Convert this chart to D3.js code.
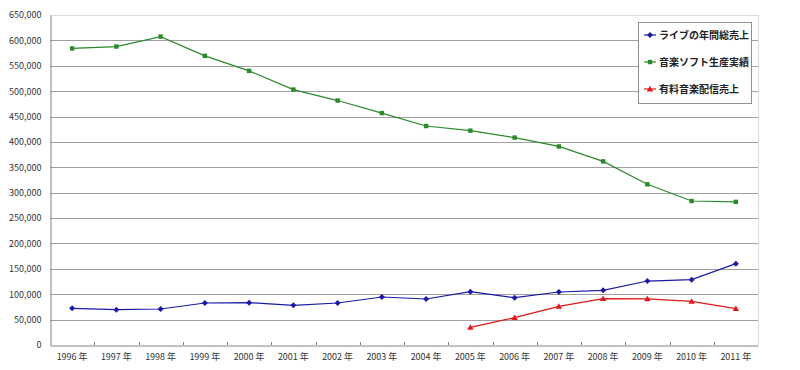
<!DOCTYPE html>
<html><head><meta charset="utf-8">
<script src="https://cdn.jsdelivr.net/npm/d3@7"></script>
<style>
body{margin:0;background:#fff;}
svg{display:block;}
text{font-family:"Noto Sans CJK JP","DejaVu Sans",sans-serif;}
</style></head>
<body><svg id="c" width="800" height="370"></svg>
<script>
const years = ["1996年","1997年","1998年","1999年","2000年","2001年","2002年","2003年","2004年","2005年","2006年","2007年","2008年","2009年","2010年","2011年"];
const yearLabels = ["1996 年","1997 年","1998 年","1999 年","2000 年","2001 年","2002 年","2003 年","2004 年","2005 年","2006 年","2007 年","2008 年","2009 年","2010 年","2011 年"];
const seriesNames = ["ライブの年間総売上","音楽ソフト生産実績","有料音楽配信売上"];
const liveSales = [72200,69600,70900,82700,83400,78100,82700,94500,90600,105000,93200,104400,107700,126000,128700,160200];
const softProduction = [584100,587900,607500,569500,539900,503100,481500,456800,431300,422200,408500,391100,361700,316500,283600,281900];
const digitalSales = [null,null,null,null,null,null,null,null,null,34800,53800,76100,91300,91000,86000,71600];
const yTicks = [0,50000,100000,150000,200000,250000,300000,350000,400000,450000,500000,550000,600000,650000];

const colors = ["#1a1aa8","#2a8a2a","#e01818"];
const svg = d3.select("#c");
const L=50, R=758, T=15, B=345;
const x = d3.scaleBand().domain(years).range([L,R]);
const y = d3.scaleLinear().domain([0,650000]).range([B,T]);

// gridlines
svg.append("g").selectAll("line").data(yTicks.filter(d=>d>0)).join("line")
  .attr("x1",L).attr("x2",R).attr("y1",d=>Math.round(y(d))+0.5).attr("y2",d=>Math.round(y(d))+0.5)
  .attr("stroke",d=>d===650000?"#dcdcdc":"#a0a0a0").attr("stroke-width",1);
// right border
svg.append("line").attr("x1",R+0.5).attr("x2",R+0.5).attr("y1",T).attr("y2",B).attr("stroke","#dcdcdc");

// y axis
const yAxis = d3.axisLeft(y).tickValues(yTicks).tickSize(0).tickPadding(9).tickFormat(d3.format(","));
const gy = svg.append("g").attr("transform",`translate(${L+0.5},0)`).call(yAxis);
gy.select(".domain").attr("stroke","#808080");
gy.selectAll("text").attr("font-size",9).attr("fill","#333").attr("font-family","Liberation Sans, Arial, sans-serif");

// x axis
const xAxis = d3.axisBottom(x).tickSize(0).tickPadding(8).tickFormat((d,i)=>yearLabels[i]);
const gx = svg.append("g").attr("transform",`translate(0,${B+0.5})`).call(xAxis);
gx.select(".domain").attr("stroke","#808080");
gx.selectAll("text").attr("font-size",9).attr("fill","#333");
// inner tick marks between categories
svg.append("g").selectAll("line").data(years.slice(1)).join("line")
  .attr("x1",d=>Math.round(x(d))+0.5).attr("x2",d=>Math.round(x(d))+0.5)
  .attr("y1",B-3).attr("y2",B).attr("stroke","#808080");

const cx = d=>x(d)+x.bandwidth()/2;
const allSeries = [liveSales, softProduction, digitalSales];
const line = d3.line().defined(d=>d.v!=null).x(d=>cx(d.k)).y(d=>y(d.v));

function marker(g, i, px, py){
  if(i===0){
    g.append("path").attr("d",`M${px},${py-3}L${px+3},${py}L${px},${py+3}L${px-3},${py}Z`).attr("fill",colors[0]);
  } else if(i===1){
    g.append("rect").attr("x",px-2.2).attr("y",py-2.2).attr("width",4.4).attr("height",4.4).attr("fill",colors[1]);
  } else {
    g.append("path").attr("d",`M${px},${py-3.2}L${px+3.2},${py+2.4}L${px-3.2},${py+2.4}Z`).attr("fill",colors[2]);
  }
}

allSeries.forEach((vals,i)=>{
  const data = years.map((k,j)=>({k, v: vals[j]}));
  svg.append("path").datum(data).attr("d",line).attr("fill","none").attr("stroke",colors[i]).attr("stroke-width",1.2);
  const g = svg.append("g");
  data.filter(d=>d.v!=null).forEach(d=>marker(g,i,cx(d.k),y(d.v)));
});

// legend
const lg = svg.append("g");
lg.append("rect").attr("x",638.5).attr("y",22.5).attr("width",113).attr("height",81).attr("fill","#fff").attr("stroke","#909090");
seriesNames.forEach((n,i)=>{
  const yy = 35 + i*27;
  lg.append("line").attr("x1",644).attr("x2",656).attr("y1",yy).attr("y2",yy).attr("stroke",colors[i]).attr("stroke-width",1.2);
  marker(lg,i,650,yy);
  lg.append("text").attr("x",659).attr("y",yy+3.5).attr("font-size",10).attr("font-weight","bold").attr("fill","#222").text(n);
});
</script></body></html>
